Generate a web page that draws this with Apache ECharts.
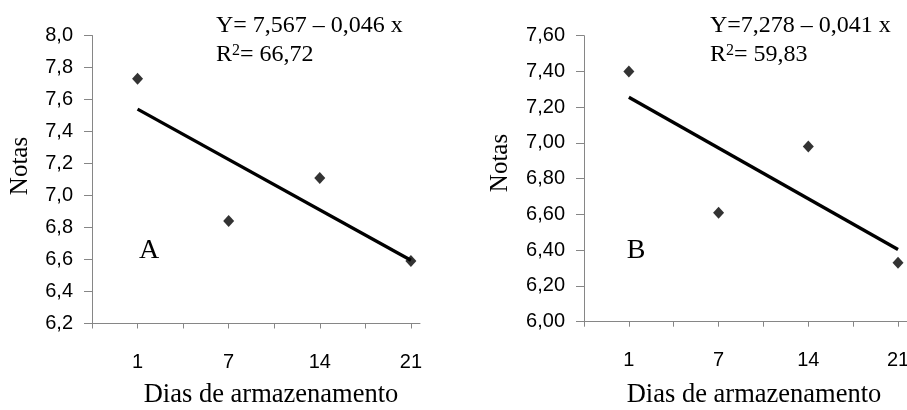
<!DOCTYPE html>
<html><head><meta charset="utf-8">
<script src="https://cdn.jsdelivr.net/npm/echarts@6/dist/echarts.min.js"></script>
<style>html,body{margin:0;padding:0;background:#fff}#c{width:907px;height:410px}</style>
</head><body><div id="c"></div>
<script>
// ---- data ----
const dias = ['1', '7', '14', '21'];
const notasA = [7.73, 6.84, 7.11, 6.59];
const notasB = [7.40, 6.61, 6.98, 6.33];
const trendA = [7.54, 6.595];   // fitted line at day 1 and day 21
const trendB = [7.256, 6.404];
const yTicksA = ['6,2', '6,4', '6,6', '6,8', '7,0', '7,2', '7,4', '7,6', '7,8', '8,0'];
const yTicksB = ['6,00', '6,20', '6,40', '6,60', '6,80', '7,00', '7,20', '7,40', '7,60'];
const eqA = ['Y= 7,567 \u2013 0,046 x', '66,72'];
const eqB = ['Y=7,278 \u2013 0,041 x', '59,83'];
const panelLabels = ['A', 'B'];
const yName = 'Notas';
const xName = 'Dias de armazenamento';

// ---- chart ----
const AXIS_COLOR = '#868686';
const SANS = '"Liberation Sans", Arial, sans-serif';
const SERIF = '"Liberation Serif", "Times New Roman", serif';
const tickPos = [];
for (let k = 0; k < 8; k++) tickPos.push(-0.5 + k * 0.5);
const labelPos = dias.map((d, i) => i);

function xAxis(gi) {
  return {
    type: 'value', gridIndex: gi, min: -0.5, max: 3.1, interval: 0.5,
    axisLine: { show: true, onZero: false, lineStyle: { color: AXIS_COLOR, width: 1 } },
    axisTick: { show: true, customValues: tickPos, length: 5, inside: false, lineStyle: { color: AXIS_COLOR, width: 1 } },
    axisLabel: { show: true, customValues: labelPos, formatter: v => dias[Math.round(v)] || '', margin: 29,
      color: '#000', fontFamily: SANS, fontSize: 20 },
    splitLine: { show: false }
  };
}
function yAxis(gi, min, max, ticks) {
  return {
    type: 'value', gridIndex: gi, min: min, max: max, interval: 0.2,
    axisLine: { show: true, onZero: false, lineStyle: { color: AXIS_COLOR, width: 1 } },
    axisTick: { show: true, length: 8, inside: false, lineStyle: { color: AXIS_COLOR, width: 1 } },
    axisLabel: { show: true, margin: 19, color: '#000', fontFamily: SANS, fontSize: 20,
      formatter: v => ticks[Math.round((v - min) / 0.2)] },
    splitLine: { show: false }
  };
}
function scatter(gi, vals) {
  return { type: 'scatter', xAxisIndex: gi, yAxisIndex: gi, symbol: 'diamond', symbolSize: [11, 12],
    itemStyle: { color: '#000' }, z: 4, data: vals.map((v, i) => [i, v]) };
}
function trend(gi, t) {
  return { type: 'line', xAxisIndex: gi, yAxisIndex: gi, symbol: 'none', showSymbol: false, z: 3,
    lineStyle: { color: '#000', width: 3.3 }, data: [[0, t[0]], [dias.length - 1, t[1]]] };
}
function txt(x, y, text, size, rot) {
  return { type: 'text', x: x, y: y, rotation: rot || 0, z: 10,
    style: { text: text, fontFamily: SERIF, fontSize: size, fill: '#000', align: 'center', verticalAlign: 'middle' } };
}
function eq(x, y, lines) {
  return [
    { type: 'text', x: x, y: y, z: 10,
      style: { text: lines[0], fontFamily: SERIF, fontSize: 24, fill: '#000', align: 'left', verticalAlign: 'middle' } },
    { type: 'text', x: x, y: y + 29, z: 10,
      style: { text: '{a|R}{s|2}{a|= ' + lines[1] + '}', fill: '#000', align: 'left', verticalAlign: 'middle',
        rich: { a: { fontFamily: SERIF, fontSize: 24, fill: '#000' },
                s: { fontFamily: SERIF, fontSize: 16, fill: '#000', verticalAlign: 'top' } } } }
  ];
}

const chart = echarts.init(document.getElementById('c'), null, { renderer: 'canvas' });
chart.setOption({
  animation: false,
  backgroundColor: '#fff',
  grid: [
    { left: 92, top: 35.5, width: 328, height: 288, containLabel: false, outerBoundsMode: 'none' },
    { left: 584, top: 35.7, width: 323, height: 286, containLabel: false, outerBoundsMode: 'none' }
  ],
  xAxis: [xAxis(0), xAxis(1)],
  yAxis: [yAxis(0, 6.2, 8.0, yTicksA), yAxis(1, 6.0, 7.6, yTicksB)],
  series: [trend(0, trendA), scatter(0, notasA), trend(1, trendB), scatter(1, notasB)],
  graphic: [
    txt(20, 166, yName, 25, Math.PI / 2),
    txt(500, 163, yName, 25, Math.PI / 2),
    txt(271, 395, xName, 26.5),
    txt(754, 395, xName, 26.5),
    txt(149, 251, panelLabels[0], 28),
    txt(636, 251, panelLabels[1], 28)
  ].concat(eq(216, 26, eqA), eq(710, 26, eqB))
});
</script></body></html>
